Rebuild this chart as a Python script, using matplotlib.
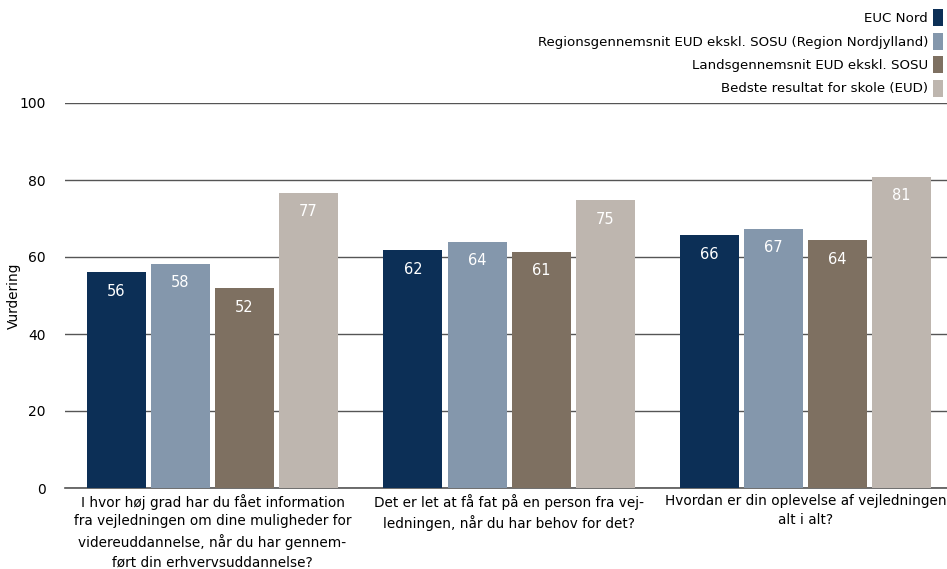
import numpy as np
import matplotlib.pyplot as plt

categories = [
    "I hvor høj grad har du fået information\nfra vejledningen om dine muligheder for\nvidereuddannelse, når du har gennem-\nført din erhvervsuddannelse?",
    "Det er let at få fat på en person fra vej-\nledningen, når du har behov for det?",
    "Hvordan er din oplevelse af vejledningen\nalt i alt?",
]
series_names = [
    "EUC Nord",
    "Regionsgennemsnit EUD ekskl. SOSU (Region Nordjylland)",
    "Landsgennemsnit EUD ekskl. SOSU",
    "Bedste resultat for skole (EUD)",
]
euc_nord = [56.1, 61.8, 65.7]
region = [58.3, 63.9, 67.3]
lands = [51.9, 61.3, 64.4]
bedste = [76.7, 74.8, 80.8]
colors = ["#0c2f56", "#8497ac", "#7e7061", "#beb6af"]

plt.rcParams['font.family'] = 'DejaVu Sans'
fig = plt.figure(figsize=(9.47, 5.69), dpi=100)
ax = fig.add_axes([65/947, 1 - 488/569, 882/947, 385/569])

x = np.arange(len(categories))
step = 0.216
width = 0.199
all_series = [euc_nord, region, lands, bedste]
for i, (vals, name, c) in enumerate(zip(all_series, series_names, colors)):
    bars = ax.bar(x + (i - 1.5) * step, vals, width, color=c, label=name, zorder=3)
    for b, v in zip(bars, vals):
        ax.annotate(f"{v:.0f}", (b.get_x() + b.get_width() / 2, v),
                    xytext=(0, -19), textcoords='offset pixels',
                    ha='center', va='center', color='white', fontsize=10.5, zorder=4)

ax.set_xlim(-0.4975, 2.477)
ax.set_ylim(0, 100)
ax.set_yticks([0, 20, 40, 60, 80, 100])
ax.set_xticks(x)
ax.set_xticklabels(categories, fontsize=9.8, linespacing=1.45)
ax.tick_params(axis='y', length=0, labelsize=10, pad=14)
ax.tick_params(axis='x', length=0, pad=4)
ax.grid(axis='y', color='#555555', linewidth=1, zorder=0)
ax.axhline(0, color='#555555', linewidth=1.2, zorder=2, clip_on=False)
for s in ax.spines.values():
    s.set_visible(False)
ax.set_ylabel('Vurdering', fontsize=9.8)
ax.yaxis.set_label_coords(-44/882, 0.5)

fig.legend(loc='upper right', bbox_to_anchor=(1.006, 1.0), frameon=False,
           markerfirst=False, fontsize=9.6, handlelength=0.75, handleheight=1.6,
           handletextpad=0.4, labelspacing=0.47, borderpad=0.2)

fig.savefig('out.png', dpi=100)
